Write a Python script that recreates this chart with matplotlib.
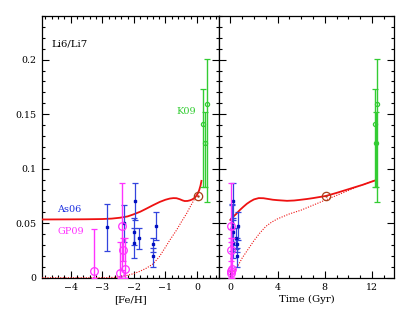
import numpy as np
import matplotlib
matplotlib.use("Agg")
import matplotlib.pyplot as plt
from matplotlib.ticker import MultipleLocator, FuncFormatter

plt.rcParams['font.family'] = ['DejaVu Serif']
plt.rcParams['axes.unicode_minus'] = True

# ---------------- data ----------------
# model curves vs [Fe/H]
feh_solid = [-4.9, -4.0, -3.5, -3.0, -2.7, -2.44, -2.2, -2.02, -1.8, -1.6, -1.4, -1.18, -1.0,
             -0.86, -0.75, -0.65, -0.55, -0.45, -0.39, -0.3, -0.23, -0.15, -0.08, -0.02, 0.03,
             0.07, 0.11, 0.14]
li_solid_feh = [0.0534, 0.0535, 0.0536, 0.0538, 0.0542, 0.055, 0.0562, 0.058, 0.0605, 0.0634,
                0.0664, 0.0695, 0.0715, 0.0726, 0.0730, 0.0729, 0.0720, 0.0708, 0.0703, 0.0704,
                0.0709, 0.0718, 0.0732, 0.0752, 0.0775, 0.0805, 0.0845, 0.0888]
feh_dot = [-4.9, -3.0, -2.6, -2.4, -2.2, -2.0, -1.8, -1.6, -1.4, -1.2, -1.0, -0.85, -0.65,
           -0.5, -0.33, -0.2, -0.07, 0.03]
li_dot_feh = [0.0, 0.0, 0.0003, 0.0010, 0.0022, 0.0038, 0.006, 0.0088, 0.0125, 0.019, 0.028,
              0.035, 0.0436, 0.051, 0.0589, 0.066, 0.0726, 0.0755]

# model curves vs time (Gyr)
t_solid = [0.0, 0.2, 0.5, 0.8, 1.1, 1.4, 1.7, 2.0, 2.4, 2.8, 3.2, 3.6, 4.0, 4.8, 5.4, 5.9,
           6.5, 7.0, 7.5, 8.1, 9.0, 10.1, 11.2, 12.2]
li_solid_t = [0.053, 0.0555, 0.0585, 0.0620, 0.0650, 0.0678, 0.0700, 0.0718, 0.0730, 0.0729,
              0.0722, 0.0715, 0.0711, 0.0705, 0.0708, 0.0714, 0.0722, 0.0730, 0.0739, 0.0750,
              0.0778, 0.0815, 0.0852, 0.0890]
t_dot = [0.28, 0.45, 0.6, 0.8, 1.0, 1.25, 1.5, 2.0, 2.5, 3.0, 3.5, 4.0, 5.0, 6.0, 7.0, 8.0,
         9.0, 10.0, 11.0, 12.2]
li_dot_t = [0.0055, 0.008, 0.010, 0.014, 0.018, 0.022, 0.026, 0.034, 0.041, 0.047, 0.051,
            0.054, 0.0585, 0.062, 0.0665, 0.071, 0.0755, 0.080, 0.0845, 0.089]

# Sun
sun_feh, sun_t, sun_li = 0.03, 8.1, 0.0748

# As06 (blue)
as_feh = [-2.85, -2.30, -1.97, -1.99, -2.01, -1.84, -1.31, -1.40, -1.38]
as_t = [0.12, 0.17, 0.22, 0.22, 0.21, 0.45, 0.65, 0.58, 0.60]
as_li = [0.0461, 0.050, 0.0702, 0.0421, 0.032, 0.036, 0.0473, 0.0308, 0.0199]
as_lo = [0.0242, 0.033, 0.0528, 0.030, 0.0183, 0.026, 0.0342, 0.0240, 0.0101]
as_hi = [0.068, 0.067, 0.0869, 0.055, 0.046, 0.046, 0.0603, 0.0363, 0.027]

# GP09 (magenta)
gp_feh = [-3.25, -2.39, -2.33, -2.29, -2.45]
gp_t = [0.05, 0.08, 0.09, 0.10, 0.07]
gp_li = [0.0064, 0.0473, 0.0253, 0.0077, 0.0046]
gp_lo = [0.0, 0.007, 0.0149, 0.0, 0.0]
gp_hi = [0.045, 0.0873, 0.036, 0.036, 0.033]

# K09 (green)
k_feh = [0.19, 0.25, 0.31]
k_t = [12.25, 12.35, 12.45]
k_li = [0.141, 0.1235, 0.159]
k_lo = [0.083, 0.083, 0.069]
k_hi = [0.173, 0.152, 0.201]

# ---------------- figure ----------------
fig = plt.figure(figsize=(4.19, 3.13), dpi=100)
axL = fig.add_axes([0.101, 0.1128, 0.4205, 0.836])
axR = fig.add_axes([0.5215, 0.1128, 0.4196, 0.836])

red = '#ee1111'
blue = '#3344dd'
blue_pt = '#0010c0'
mag = '#ff33ff'
green = '#33cc33'
brown = '#a8401a'

def err(y, lo, hi):
    y = np.array(y); lo = np.array(lo); hi = np.array(hi)
    return [y - lo, hi - y]

def draw(ax, xs, xd, xsun, xas, xgp, xk):
    ax.plot(xs[0], xs[1], color=red, lw=1.3, zorder=3)
    ax.plot(xd[0], xd[1], color=red, lw=0.8, ls=(0, (1, 1.3)), zorder=3)
    ax.errorbar(xas, as_li, yerr=err(as_li, as_lo, as_hi), fmt='s', ms=1.8,
                color=blue_pt, ecolor=blue, elinewidth=0.9, capsize=2, capthick=0.9, zorder=4)
    ax.errorbar(xgp, gp_li, yerr=err(gp_li, gp_lo, gp_hi), fmt='o', ms=5.5,
                mfc='none', mec=mag, mew=0.9, ecolor=mag, elinewidth=1.0,
                capsize=2.5, capthick=0.9, zorder=5)
    ax.errorbar(xk, k_li, yerr=err(k_li, k_lo, k_hi), fmt='o', ms=3,
                mfc='none', mec=green, mew=0.9, ecolor=green, elinewidth=1.0,
                capsize=2, capthick=0.9, zorder=4)
    ax.plot([xsun], [sun_li], 'o', ms=6, mfc='none', mec=brown, mew=0.9, zorder=6)
    ax.plot([xsun], [sun_li], '.', ms=1.5, color=brown, zorder=6)

draw(axL, (feh_solid, li_solid_feh), (feh_dot, li_dot_feh), sun_feh, as_feh, gp_feh, k_feh)
draw(axR, (t_solid, li_solid_t), (t_dot, li_dot_t), sun_t, as_t, gp_t, k_t)

axL.set_xlim(-4.9, 0.68)
axR.set_xlim(-1.0, 13.88)
for ax in (axL, axR):
    ax.set_ylim(0, 0.24)
    ax.yaxis.set_major_locator(MultipleLocator(0.05))
    ax.yaxis.set_minor_locator(MultipleLocator(0.01))
    ax.tick_params(which='both', direction='in', top=True, right=True,
                   labelsize=6.8, width=0.8, pad=4)
    ax.tick_params(which='major', length=5)
    ax.tick_params(which='minor', length=2.5)
    for s in ax.spines.values():
        s.set_linewidth(0.9)

axL.xaxis.set_major_locator(MultipleLocator(1))
axL.xaxis.set_minor_locator(MultipleLocator(0.2))
axR.xaxis.set_major_locator(MultipleLocator(4))
axR.xaxis.set_minor_locator(MultipleLocator(1))
axL.yaxis.set_major_formatter(FuncFormatter(lambda v, p: '%g' % round(v, 3)))
axR.tick_params(labelleft=False)

axL.set_xlabel('[Fe/H]', fontsize=7.3, labelpad=2)
axR.set_xlabel('Time (Gyr)', fontsize=7.3, labelpad=2)

axL.text(-4.6, 0.2145, 'Li6/Li7', fontsize=7.3, color='black', va='center')
axL.text(-4.42, 0.0629, 'As06', fontsize=7, color='#1a2ee0', va='center')
axL.text(-4.42, 0.0427, 'GP09', fontsize=7, color=mag, va='center')
axL.text(-0.03, 0.1525, 'K09', fontsize=7, color=green, va='center', ha='right')

fig.savefig('out.png', dpi=100)
